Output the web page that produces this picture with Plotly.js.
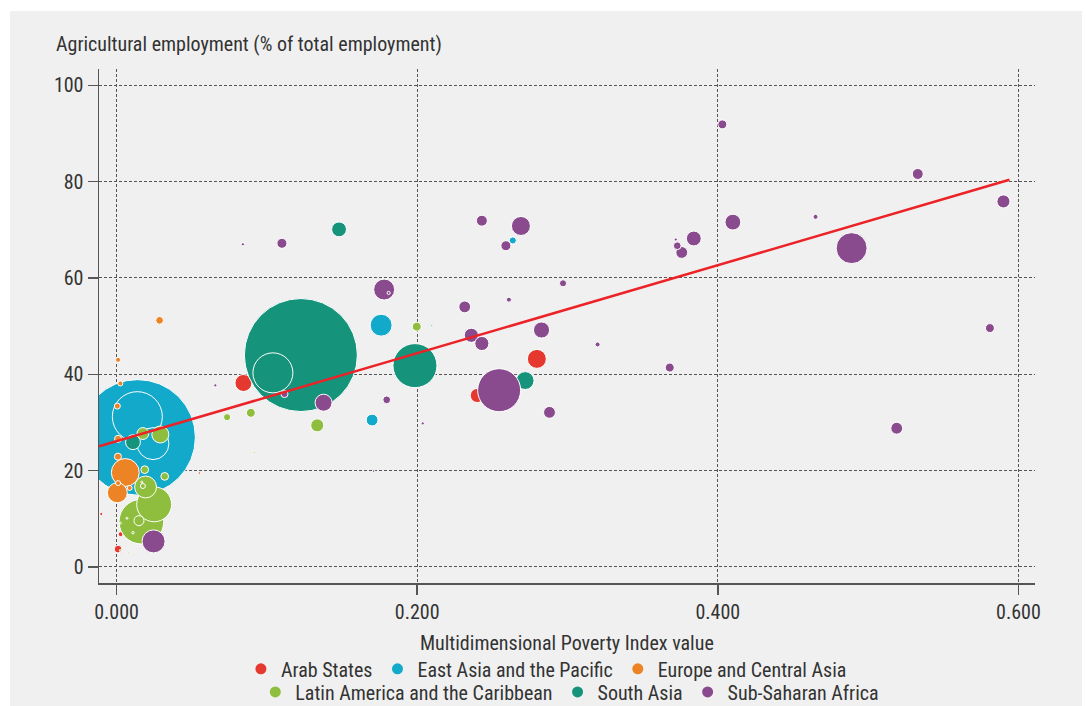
<!DOCTYPE html>
<html>
<head>
<meta charset="utf-8">
<script src="https://cdn.plot.ly/plotly-3.0.1.min.js"></script>
<style>
  html, body { margin: 0; padding: 0; background: #ffffff; }
  #chart { position: absolute; left: 10px; top: 11px; width: 1072px; height: 695px; }
</style>
</head>
<body>
<div id="chart"></div>
<script>
// ---------- Data ----------
// x = Multidimensional Poverty Index value, y = agricultural employment (%), s = bubble size (population, millions, approx.)
const regionNames = ["Arab States", "East Asia and the Pacific", "Europe and Central Asia",
                     "Latin America and the Caribbean", "South Asia", "Sub-Saharan Africa"];
const regionColors = ["#e5392f", "#12a9cb", "#ec8426", "#8fbe3f", "#16937b", "#8a4a8e"];

const arabX = [0.2796, 0.0844, 0.240, 0.001, 0.0027, -0.0102, 0.055];
const arabY = [43.2, 38.2, 35.6, 3.7, 6.8, 11.0, 19.5];
const arabS = [36, 29, 20, 6, 2.5, 1, 0.6];

const eastAsiaX = [0.014, 0.0138, 0.0242, 0.176, 0.170, 0.2636, 0.2097];
const eastAsiaY = [26.9, 31.2, 25.6, 50.2, 30.5, 67.8, 50.1];
const eastAsiaS = [1334, 250, 102, 48, 14, 5, 0.4];

const europeX = [0.0058, 0.0005, 0.0286, 0.0009, 0.001, 0.0005, 0.0025, 0.001, 0.0087, 0.001];
const europeY = [19.6, 15.4, 51.2, 22.9, 26.6, 33.4, 38.1, 43.0, 16.4, 17.4];
const europeS = [78, 40, 6, 5, 5, 3.6, 2.5, 2.5, 2.5, 2.5];

const latinX = [0.0165, 0.025, 0.0193, 0.0291, 0.1335, 0.0175, 0.0149, 0.1997, 0.0893, 0.0187,
                0.032, 0.0735, 0.0175, 0.0168, 0.0069, 0.0109, 0.0025, 0.0025, 0.0082, 0.0916];
const latinY = [9.4, 13.0, 16.6, 27.5, 29.4, 27.7, 9.6, 49.9, 32.0, 20.2,
                18.8, 31.1, 16.8, 17.6, 10.1, 7.1, 9.1, 3.4, 2.9, 23.8];
const latinS = [200, 122, 48, 29, 17, 14, 10, 8, 8, 6,
                6, 5, 2.5, 0.4, 0.4, 0.6, 0.4, 0.4, 0.4, 0.4];

const southAsiaX = [0.1226, 0.1985, 0.104, 0.2718, 0.148, 0.0109];
const southAsiaY = [44.0, 41.8, 40.3, 38.7, 70.1, 25.9];
const southAsiaS = [1277, 194, 160, 32, 22, 22];

const africaX = [0.2545, 0.489, 0.0246, 0.178, 0.269, 0.1377, 0.2827, 0.410, 0.384, 0.236,
                 0.243, 0.590, 0.2316, 0.288, 0.376, 0.519, 0.243, 0.533, 0.110, 0.259,
                 0.403, 0.368, 0.581, 0.373, 0.1797, 0.1117, 0.297, 0.465, 0.320, 0.261,
                 0.372, 0.084, 0.0657, 0.2037, 0.171, 0.181];
const africaY = [36.7, 66.2, 5.3, 57.6, 70.8, 34.1, 49.2, 71.6, 68.2, 48.1,
                 46.4, 75.9, 54.0, 32.1, 65.3, 28.8, 71.9, 81.6, 67.2, 66.7,
                 91.9, 41.4, 49.6, 66.7, 34.7, 35.9, 58.9, 72.7, 46.2, 55.5,
                 68.0, 67.0, 37.7, 29.8, 19.9, 56.9];
const africaS = [185, 96, 53, 44, 36, 29, 26, 25, 22, 20,
                 20, 17, 14, 14, 14, 14, 12, 12, 10, 10,
                 8, 8, 8, 6, 6, 5, 5, 2.5, 2.5, 2.5,
                 1, 1, 1, 1, 0.6, 1];

// Fitted trend line (intercept, slope) and its x extent
const trendIntercept = 26.1;
const trendSlope = 91.4;
const trendXStart = -0.0117;
const trendXEnd = 0.594;

const xTickVals = [0, 0.2, 0.4, 0.6];
const yTickVals = [0, 20, 40, 60, 80, 100];

// ---------- Build traces ----------
const FONT = "'Liberation Sans Narrow', 'Arial Narrow', 'Roboto Condensed', 'DejaVu Sans Condensed', sans-serif";
const TEXT = "#333333";
const series = [
  [arabX, arabY, arabS],
  [eastAsiaX, eastAsiaY, eastAsiaS],
  [europeX, europeY, europeS],
  [latinX, latinY, latinS],
  [southAsiaX, southAsiaY, southAsiaS],
  [africaX, africaY, africaS]
];

const traces = [];
series.forEach(function (s, i) {
  traces.push({
    type: "scatter", mode: "markers",
    x: s[0], y: s[1], name: regionNames[i], showlegend: false,
    marker: { size: s[2], sizemode: "area", sizeref: 0.2, sizemin: 1, opacity: 1,
              color: regionColors[i], line: { color: "#ffffff", width: 1 } },
    hoverinfo: "x+y+name"
  });
});

traces.push({
  type: "scatter", mode: "lines",
  x: [trendXStart, trendXEnd],
  y: [trendIntercept + trendSlope * trendXStart, trendIntercept + trendSlope * trendXEnd],
  line: { color: "#ec2227", width: 2.5 }, showlegend: false, hoverinfo: "skip"
});

// Legend entries (two rows)
regionNames.forEach(function (n, i) {
  traces.push({
    type: "scatter", mode: "markers", x: [null], y: [null], name: n,
    legend: i < 3 ? "legend" : "legend2",
    marker: { size: 11, color: regionColors[i], opacity: 1 }, hoverinfo: "skip"
  });
});

const legendCommon = {
  orientation: "h", xanchor: "center", yanchor: "middle",
  bgcolor: "rgba(0,0,0,0)", font: { family: FONT, size: 20, color: TEXT },
  itemwidth: 30, tracegroupgap: 0, borderwidth: 0
};

const layout = {
  width: 1072, height: 695,
  margin: { l: 89, r: 47, t: 58, b: 123, autoexpand: false },
  paper_bgcolor: "#f0f0f0", plot_bgcolor: "#f0f0f0",
  font: { family: FONT, size: 20, color: TEXT },
  showlegend: true,
  legend: Object.assign({}, legendCommon, { x: 0.478, y: -0.167 }),
  legend2: Object.assign({}, legendCommon, { x: 0.503, y: -0.212 }),
  xaxis: {
    range: [-0.0117, 0.611], tickvals: xTickVals, tickformat: ".3f",
    showgrid: true, gridcolor: "#555555", gridwidth: 1, griddash: "3px,2px",
    zeroline: false, showline: true, linecolor: "#555555", linewidth: 1.5,
    ticks: "outside", ticklen: 10, tickwidth: 1.5, tickcolor: "#555555",
    tickfont: { family: FONT, size: 20, color: TEXT }
  },
  yaxis: {
    range: [-3.34, 103.4], tickvals: yTickVals,
    showgrid: true, gridcolor: "#555555", gridwidth: 1, griddash: "3px,2px",
    zeroline: false, showline: true, linecolor: "#555555", linewidth: 1.5,
    ticks: "outside", ticklen: 10, tickwidth: 1.5, tickcolor: "#555555",
    tickfont: { family: FONT, size: 20, color: TEXT }
  },
  annotations: [
    { text: "Agricultural employment (% of total employment)", xref: "paper", yref: "paper",
      x: -0.0481, y: 1.0486, xanchor: "left", yanchor: "middle", showarrow: false,
      font: { family: FONT, size: 20, color: TEXT } },
    { text: "Multidimensional Poverty Index value", xref: "paper", yref: "paper",
      x: 0.5, y: -0.1167, xanchor: "center", yanchor: "middle", showarrow: false,
      font: { family: FONT, size: 20, color: TEXT } }
  ]
};

Plotly.newPlot("chart", traces, layout, { displayModeBar: false, staticPlot: true });
</script>
</body>
</html>
